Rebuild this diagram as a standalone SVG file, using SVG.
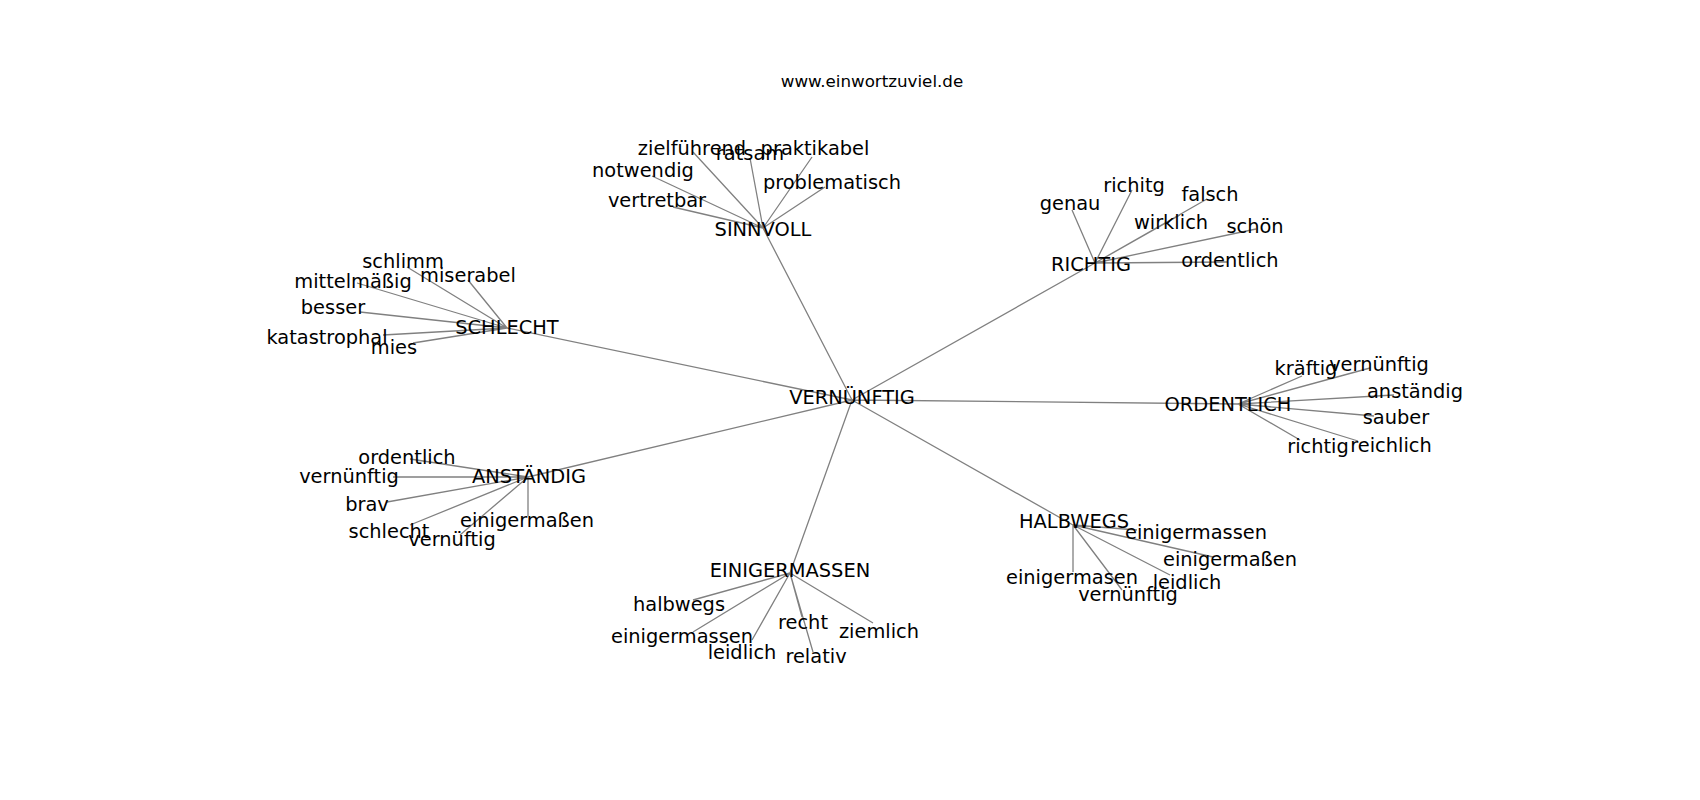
<svg xmlns="http://www.w3.org/2000/svg" width="1700" height="800" viewBox="0 0 1700 800">
<style>
.e{stroke:#808080;stroke-width:1.3;fill:none}
text{font-family:"DejaVu Sans","Liberation Sans",sans-serif;font-size:19.4px;fill:#000;text-anchor:middle}
.title{font-size:16.7px}
</style>
<rect width="1700" height="800" fill="#fff"/>
<text class="title" x="872" y="87">www.einwortzuviel.de</text>
<g id="edges">
<path class="e" d="M852,400L763,228M852,400L507,328M852,400L1095,263M852,400L1238,404M852,400L528,477M852,400L790,573M852,400L1073,525"/>
<path class="e" d="M763,228L693,152M763,228L750,158M763,228L812,157M763,228L652,176M763,228L673,207M763,228L825,187"/>
<path class="e" d="M507,328L407,267M507,328L468,280M507,328L357,283M507,328L360,312M507,328L383,335M507,328L413,343"/>
<path class="e" d="M1095,263L1072,210M1095,263L1132,190M1095,263L1207,199M1095,263L1180,215M1095,263L1256,229M1095,263L1228,262"/>
<path class="e" d="M1238,404L1302,376M1238,404L1370,368M1238,404L1394,395M1238,404L1374,416M1238,404L1358,441M1238,404L1300,440"/>
<path class="e" d="M528,477L410,459M528,477L393,477M528,477L387,502M528,477L410,525M528,477L460,535M528,477L528,516"/>
<path class="e" d="M790,573L693,600M790,573L693,632M790,573L752,640M790,573L802,617M790,573L813,652M790,573L873,623"/>
<path class="e" d="M1073,525L1137,530M1073,525L1213,557M1073,525L1073,572M1073,525L1122,590M1073,525L1170,575"/>
</g>
<g id="n-vernuenftig"><text x="852" y="404">VERNÜNFTIG</text></g>
<g id="n-sinnvoll"><text x="763" y="236">SINNVOLL</text></g>
<g id="n-zielfuehrend"><text x="692" y="155">zielführend</text></g>
<g id="n-ratsam"><text x="750" y="160">ratsam</text></g>
<g id="n-praktikabel"><text x="815" y="155">praktikabel</text></g>
<g id="n-notwendig"><text x="643" y="177">notwendig</text></g>
<g id="n-vertretbar"><text x="657" y="207">vertretbar</text></g>
<g id="n-problematisch"><text x="832" y="189">problematisch</text></g>
<g id="n-schlecht"><text x="507" y="334">SCHLECHT</text></g>
<g id="n-schlimm"><text x="403" y="268">schlimm</text></g>
<g id="n-miserabel"><text x="468" y="282">miserabel</text></g>
<g id="n-mittelmaessig"><text x="353" y="288">mittelmäßig</text></g>
<g id="n-besser"><text x="333" y="314">besser</text></g>
<g id="n-katastrophal"><text x="327" y="344">katastrophal</text></g>
<g id="n-mies"><text x="394" y="354">mies</text></g>
<g id="n-richtig"><text x="1091" y="271">RICHTIG</text></g>
<g id="n-genau"><text x="1070" y="210">genau</text></g>
<g id="n-richitg"><text x="1134" y="192">richitg</text></g>
<g id="n-falsch"><text x="1210" y="201">falsch</text></g>
<g id="n-wirklich"><text x="1171" y="229">wirklich</text></g>
<g id="n-schoen"><text x="1255" y="233">schön</text></g>
<g id="n-ordentlich-r"><text x="1230" y="267">ordentlich</text></g>
<g id="n-ordentlich"><text x="1228" y="411">ORDENTLICH</text></g>
<g id="n-kraeftig"><text x="1306" y="375">kräftig</text></g>
<g id="n-vernuenftig-o"><text x="1379" y="371">vernünftig</text></g>
<g id="n-anstaendig-o"><text x="1415" y="398">anständig</text></g>
<g id="n-sauber"><text x="1396" y="424">sauber</text></g>
<g id="n-reichlich"><text x="1391" y="452">reichlich</text></g>
<g id="n-richtig-o"><text x="1318" y="453">richtig</text></g>
<g id="n-anstaendig"><text x="529" y="483">ANSTÄNDIG</text></g>
<g id="n-ordentlich-a"><text x="407" y="464">ordentlich</text></g>
<g id="n-vernuenftig-a"><text x="349" y="483">vernünftig</text></g>
<g id="n-brav"><text x="367" y="511">brav</text></g>
<g id="n-schlecht-a"><text x="389" y="538">schlecht</text></g>
<g id="n-vernueftig"><text x="452" y="546">vernüftig</text></g>
<g id="n-einigermassen-a"><text x="527" y="527">einigermaßen</text></g>
<g id="n-einigermassen"><text x="790" y="577">EINIGERMASSEN</text></g>
<g id="n-halbwegs-e"><text x="679" y="611">halbwegs</text></g>
<g id="n-einigermassen-e"><text x="682" y="643">einigermassen</text></g>
<g id="n-leidlich-e"><text x="742" y="659">leidlich</text></g>
<g id="n-recht"><text x="803" y="629">recht</text></g>
<g id="n-relativ"><text x="816" y="663">relativ</text></g>
<g id="n-ziemlich"><text x="879" y="638">ziemlich</text></g>
<g id="n-halbwegs"><text x="1074" y="528">HALBWEGS</text></g>
<g id="n-einigermassen-h"><text x="1196" y="539">einigermassen</text></g>
<g id="n-einigermassen-h2"><text x="1230" y="566">einigermaßen</text></g>
<g id="n-einigermasen"><text x="1072" y="584">einigermasen</text></g>
<g id="n-vernuenftig-h"><text x="1128" y="601">vernünftig</text></g>
<g id="n-leidlich-h"><text x="1187" y="589">leidlich</text></g>
</svg>
